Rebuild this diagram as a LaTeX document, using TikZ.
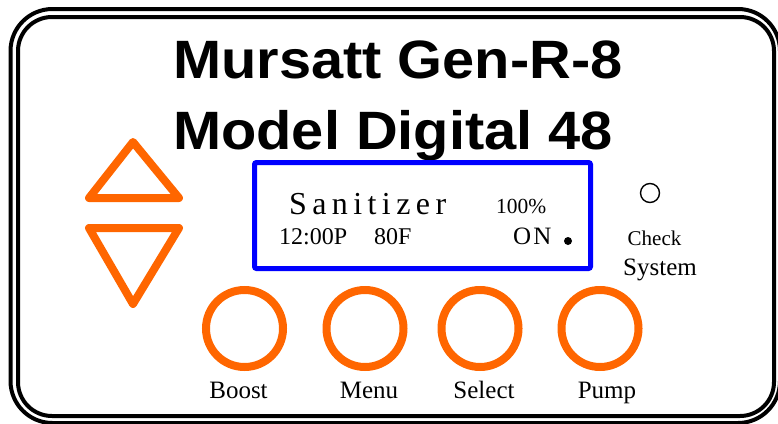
\documentclass[tikz,border=0pt]{standalone}
\usepackage{fontspec}
\setmainfont{Liberation Serif}
\setsansfont{Liberation Sans}
\definecolor{btnorange}{HTML}{FF6600}
\definecolor{lcdblue}{HTML}{0000FF}
\tikzset{
  frameline/.style={draw=black, line width=4pt},
  btn/.style={circle, draw=btnorange, line width=8pt, minimum size=77pt, inner sep=0pt},
  btnlabel/.style={font=\fontsize{25}{25}\selectfont, inner sep=0pt, anchor=base},
  tri/.style={draw=btnorange, line width=8pt, line join=round},
  titletext/.style={font=\sffamily\bfseries\fontsize{54}{54}\selectfont, inner sep=0pt, anchor=base west},
  lcdtext/.style={font=\fontsize{24}{24}\selectfont, inner sep=0pt, anchor=base west},
}
\begin{document}
\begin{tikzpicture}[x=1pt, y=-1pt]
\useasboundingbox (0,0) rectangle (778,423);
% frame
\draw[frameline, rounded corners=42pt] (10.5,9) rectangle (780,423);
\draw[frameline, rounded corners=34pt] (18,17) rectangle (774,416);
% title
\node[titletext] (t1) at (173,78) {\scalebox{1.07}[1]{Mursatt Gen-R-8}};
\node[titletext] (t2) at (173,149) {\scalebox{1.07}[1]{Model Digital 48}};
% arrows
\draw[tri] (133,142) -- (179,198) -- (89,198) -- cycle;
\draw[tri] (89,228) -- (179,228) -- (133,304) -- cycle;
% LCD
\node[draw=lcdblue, line width=5pt, rounded corners=2pt, minimum width=336pt, minimum height=106pt, inner sep=0pt] (lcd) at (422.5,215.5) {};
\def\ls{\kern5.4pt}
\node[lcdtext, font=\fontsize{32}{32}\selectfont] (san) at (289,214) {S\ls a\ls n\ls i\ls t\ls i\ls z\ls e\ls r};
\node[lcdtext, font=\fontsize{21.5}{21.5}\selectfont] (pct) at (496,213) {100\%};
\node[lcdtext] (time) at (279,244) {12:00P};
\node[lcdtext] (temp) at (374,244) {80F};
\node[lcdtext, font=\fontsize{25}{25}\selectfont] (on) at (513,244) {O\kern2ptN};
\node[circle, fill=black, minimum size=8pt, inner sep=0pt] (dot) at (568,241) {};
% check system
\node[circle, draw=black, line width=1.4pt, minimum size=19pt, inner sep=0pt] (led) at (650,193) {};
\node[btnlabel, font=\fontsize{21}{21}\selectfont] (chk) at (654.5,245) {Check};
\node[btnlabel] (sys) at (660,275) {System};
% buttons
\node[btn] (boost) at (244.5,328.5) {};
\node[btn] (menu) at (365,328.5) {};
\node[btn] (select) at (480,328.5) {};
\node[btn] (pump) at (600,328.5) {};
\node[btnlabel] (lboost) at (238.5,398) {Boost};
\node[btnlabel] (lmenu) at (369,398) {Menu};
\node[btnlabel] (lselect) at (484,398) {Select};
\node[btnlabel] (lpump) at (607,398) {Pump};
\end{tikzpicture}
\end{document}
